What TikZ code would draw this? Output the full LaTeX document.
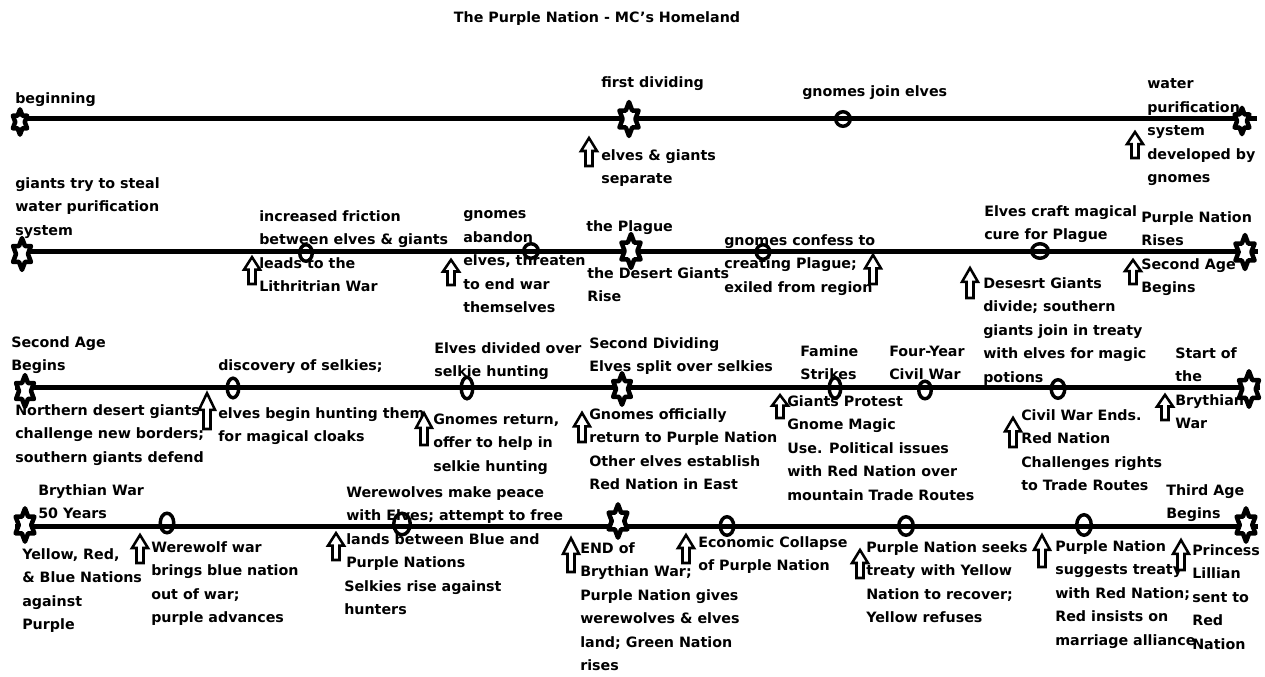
\documentclass[tikz,border=0pt]{standalone}
\usepackage{fontspec}
\setmainfont{DejaVu Sans}
\usepackage{tikz}
\usetikzlibrary{shapes.geometric}
\newcommand\evfont{\fontsize{10.7}{17.6}\selectfont\bfseries}
\tikzset{
  tline/.style={draw=black, line width=3.75pt},
  hexln/.style={draw=black, fill=white, line width=3.4pt, line join=round},
  ovl/.style={ellipse, draw=black, line width=2.6pt, inner sep=0pt},
  arrln/.style={draw=black, fill=white, line width=1.9pt, line join=miter},
  ev/.style={anchor=north west, inner sep=0pt, align=left, font=\evfont, yshift=4.2pt, execute at begin node=\strut},
  evs/.style={ev, yshift=4.5pt},
  ttl/.style={font=\evfont, inner sep=0pt},
  hexmk/.pic={
    \draw[hexln, scale=#1] (90:10 and 15.4)
      \foreach \b/\a in {120/150,180/210,240/270,300/330,0/30,60/90}{
        -- (\b:5.8 and 8.9) -- (\a:10 and 15.4)} -- cycle;
  },
  uparr/.pic={
    \draw[arrln, yscale=#1] (-3.5,0) -- (-3.5,-15) -- (-8,-15) -- (0,-28)
      -- (8,-15) -- (3.5,-15) -- (3.5,0) -- cycle;
  },
}

\begin{document}
\begin{tikzpicture}[x=0.75pt,y=-0.75pt]
  \useasboundingbox (0,0) rectangle (1265,677);
  \node[ttl] (title) at (597,19) {The Purple Nation - MC's Homeland};

  % first line
  \node[evs] (beg) at (15,98) {beginning};
  \node[evs] (firstdiv) at (601,82) {first dividing};
  \node[evs] (gnjoin) at (802,91) {gnomes join elves};
  \node[ev] (water) at (1147,84) {water\\purification\\system\\developed by\\gnomes};
  \node[ev] (separate) at (601,155) {elves \& giants\\separate};

  % second line
  \node[ev] (steal) at (15,183) {giants try to steal\\water purification\\system};
  \node[ev] (friction) at (259,216) {increased friction\\between elves \& giants\\leads to the\\Lithritrian War};
  \node[ev] (abandon) at (463,216) {gnomes\\abandon\\elves, threaten\\to end war\\themselves};
  \node[evs] (plague) at (586,226) {the Plague};
  \node[ev] (desert) at (587,273) {the Desert Giants\\Rise};
  \node[ev] (confess) at (724,240) {gnomes confess to\\creating Plague;\\exiled from region};
  \node[ev] (cure) at (984,211) {Elves craft magical\\cure for Plague};
  \node[ev] (rises) at (1141,217) {Purple Nation\\Rises\\Second Age\\Begins};
  \node[ev] (divide) at (983,283) {Desesrt Giants\\divide; southern\\giants join in treaty\\with elves for magic\\potions};

  % third line
  \node[ev] (agetwo) at (11,342) {Second Age\\Begins};
  \node[evs] (selkies) at (218,365) {discovery of selkies;};
  \node[ev] (northern) at (15,410) {Northern desert giants\\challenge new borders;\\southern giants defend};
  \node[ev] (hunting) at (218,413) {elves begin hunting them\\for magical cloaks};
  \node[ev] (elvdiv) at (434,348) {Elves divided over\\selkie hunting};
  \node[ev] (secdiv) at (589,343) {Second Dividing\\Elves split over selkies};
  \node[ev] (gnret) at (433,419) {Gnomes return,\\offer to help in\\selkie hunting};
  \node[ev] (gnoff) at (589,414) {Gnomes officially\\return to Purple Nation\\Other elves establish\\Red Nation in East};
  \node[ev] (famine) at (800,351) {Famine\\Strikes};
  \node[ev] (civil) at (889,351) {Four-Year\\Civil War};
  \node[ev] (protest) at (787,401) {Giants Protest\\Gnome Magic\\Use. Political issues\\with Red Nation over\\mountain Trade Routes};
  \node[ev] (civend) at (1021,415) {Civil War Ends.\\Red Nation\\Challenges rights\\to Trade Routes};
  \node[ev] (brystart) at (1175,353) {Start of\\the\\Brythian\\War};

  % fourth line
  \node[ev] (brywar) at (38,490) {Brythian War\\50 Years};
  \node[ev] (nations) at (22,554) {Yellow, Red,\\\& Blue Nations\\against\\Purple};
  \node[ev] (werewar) at (151,547) {Werewolf war\\brings blue nation\\out of war;\\purple advances};
  \node[ev] (peace) at (346,492) {Werewolves make peace\\with Elves; attempt to free\\lands between Blue and\\Purple Nations};
  \node[ev] (selkrise) at (344,586) {Selkies rise against\\hunters};
  \node[ev] (bryend) at (580,548) {END of\\Brythian War;\\Purple Nation gives\\werewolves \& elves\\land; Green Nation\\rises};
  \node[ev] (collapse) at (698,542) {Economic Collapse\\of Purple Nation};
  \node[ev] (seeks) at (866,547) {Purple Nation seeks\\treaty with Yellow\\Nation to recover;\\Yellow refuses};
  \node[ev] (suggests) at (1055,546) {Purple Nation\\suggests treaty\\with Red Nation;\\Red insists on\\marriage alliance};
  \node[ev] (agethree) at (1166,490) {Third Age\\Begins};
  \node[ev] (princess) at (1192,550) {Princess\\Lillian\\sent to\\Red\\Nation};

  % timelines
  \foreach \n/\y/\a/\b in {1/119/18/1257, 2/252/22/1258, 3/388/15/1260, 4/526/15/1258}{
    \coordinate (s\n) at (\a,\y);
    \coordinate (e\n) at (\b,\y);
    \draw[tline] (s\n) -- (e\n);
  }

  % oval marks
  \foreach \n/\x/\y/\w/\h in {ov1a/843/119/18/18,
      ov2a/306/253/16/20, ov2b/531/251/18/18, ov2c/763/252/17/18, ov2d/1040/251/20/18,
      ov3a/233/388/15/23, ov3b/467/388/15/25, ov3c/835/388/15/24, ov3d/925/390/16/21, ov3e/1058/389/17/22,
      ov4a/167/523/17/23, ov4b/402/524/20/25, ov4c/727/526/17/22, ov4d/906/526/18/22, ov4e/1084/525/18/24}{
    \node[ovl, minimum width=0.75pt*\w-2.6pt, minimum height=0.75pt*\h-2.6pt] (\n) at (\x,\y) {};
  }

  % star marks
  \foreach \n/\x/\y/\s in {st1a/20/122/0.82, st1b/629/119/1.1, st1c/1242/121/0.85,
      st2a/22/254/1.03, st2b/631/251/1.1, st2c/1245/252/1.1,
      st3a/25/391/1.03, st3b/622/389/1.02, st3c/1249/389/1.15,
      st4a/25/525/1.08, st4b/618/521/1.08, st4c/1246/525/1.08}{
    \pic (\n) at (\x,\y) {hexmk=\s};
  }

  % up arrows
  \foreach \n/\x/\y/\s in {ar1a/589/166/1.0, ar1b/1135/158/0.93,
      ar2a/252/284/0.96, ar2b/451/285/0.9, ar2c/873/284/1.04, ar2d/970/298/1.07, ar2e/1133/284/0.86,
      ar3a/207/429/1.28, ar3b/424/445/1.14, ar3c/582/442/1.04, ar3d/780/418/0.82, ar3e/1013/447/1.04, ar3f/1165/420/0.9,
      ar4a/140/563/1.0, ar4b/336/560/0.96, ar4c/571/572/1.21, ar4d/686/563/1.0, ar4e/860/578/1.0, ar4f/1042/567/1.14, ar4g/1181/570/1.07}{
    \pic (\n) at (\x,\y) {uparr=\s};
  }
\end{tikzpicture}
\end{document}
